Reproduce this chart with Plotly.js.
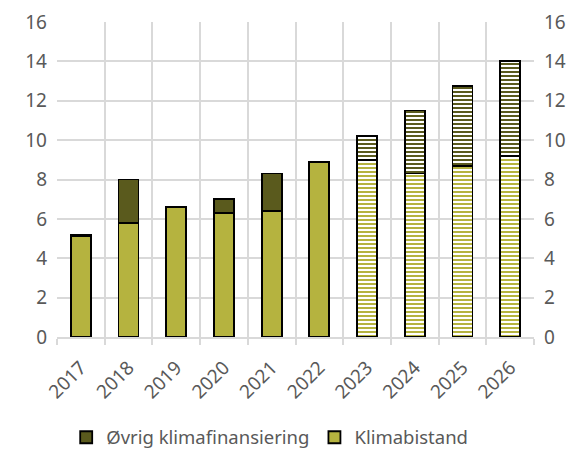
<!DOCTYPE html>
<html><head><meta charset="utf-8">
<script src="https://cdn.plot.ly/plotly-3.0.1.min.js"></script>
<style>html,body{margin:0;padding:0;background:#fff}#c{width:580px;height:459px}</style>
</head><body><div id="c"></div>
<script>
const years = ['2017','2018','2019','2020','2021','2022','2023','2024','2025','2026'];
const klimabistand = [5.1, 5.8, 6.6, 6.3, 6.4, 8.9, 9.0, 8.3, 8.7, 9.2];
const ovrig = [0.1, 2.2, 0, 0.7, 1.9, 0, 1.2, 3.2, 4.05, 4.8];
const patternShapes = ['', '', '', '', '', '', '-', '-', '-', '-'];
const yTicks = [0, 2, 4, 6, 8, 10, 12, 14, 16];

const FONT = 'Noto Sans, sans-serif';
const GRAY = '#595959';
const GRID = '#d9d9d9';

const traces = [
  {type:'bar', x: years, y: klimabistand, name:'Klimabistand', width:0.42,
   marker:{color:'#b5b33f', line:{color:'#000', width:1.8},
     pattern:{shape: patternShapes, fgcolor:'#b5b33f', bgcolor:'#ffffff', size:4, solidity:0.5}}},
  {type:'bar', x: years, y: ovrig, name:'Øvrig klimafinansiering', width:0.42,
   marker:{color:'#5a5a1d', line:{color:'#000', width:1.8},
     pattern:{shape: patternShapes, fgcolor:'#5a5a1d', bgcolor:'#ffffff', size:4, solidity:0.5}}},
  {type:'scatter', mode:'none', x: years, y: klimabistand, yaxis:'y2', showlegend:false, hoverinfo:'skip'}
];

const layout = {
  width:580, height:459,
  margin:{l:57, r:46, t:22, b:122},
  paper_bgcolor:'#fff', plot_bgcolor:'#fff',
  barmode:'stack',
  showlegend:true,
  font:{family:FONT, color:GRAY, size:19},
  xaxis:{type:'category', tickson:'boundaries', showgrid:true, gridcolor:GRID, gridwidth:2,
    ticks:'outside', ticklen:6, tickcolor:GRID, tickwidth:2, tickangle:-45,
    showline:true, linecolor:GRID, linewidth:2, tickfont:{size:19, color:GRAY, family:FONT},
    ticklabelstandoff:10, range:[-0.5, 9.5], fixedrange:true},
  yaxis:{range:[0,16], tickvals:yTicks, showgrid:true, gridcolor:GRID, gridwidth:2,
    zeroline:false, ticks:'', tickfont:{size:19, color:GRAY, family:FONT}, ticklabelstandoff:9},
  yaxis2:{range:[0,16], tickvals:yTicks, overlaying:'y', side:'right', showgrid:false,
    zeroline:false, ticks:'', tickfont:{size:19, color:GRAY, family:FONT}, ticklabelstandoff:9},
  legend:{orientation:'h', x:0.465, xanchor:'center', xref:'container', y:0.005, yanchor:'bottom', yref:'container',
    traceorder:'reversed', font:{size:18.5, color:GRAY, family:FONT}, itemwidth:30}
};
Plotly.newPlot('c', traces, layout, {displayModeBar:false, staticPlot:true});
</script></body></html>
